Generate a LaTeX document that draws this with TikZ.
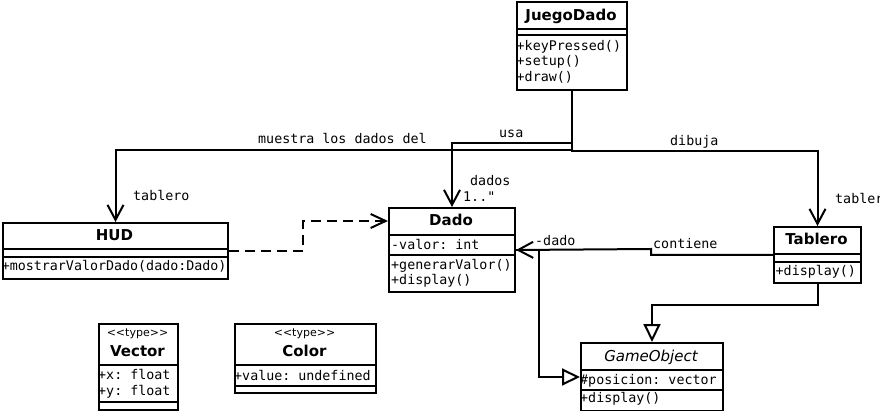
\documentclass[tikz,border=0pt]{standalone}
\usepackage{fontspec}
\setmainfont{DejaVu Sans}
\setmonofont{DejaVu Sans Mono}
\newfontfamily\stereofont{DejaVu Sans}
\usetikzlibrary{arrows.meta}
\begin{document}
\begin{tikzpicture}[x=1pt,y=-1pt,
  box/.style={draw, line width=2pt, inner sep=0pt, anchor=north west, fill=white},
  sep/.style={line width=2pt},
  mono/.style={font=\fontsize{13.33}{16}\selectfont\ttfamily, inner sep=0pt, anchor=base west},
  ttl/.style={font=\fontsize{15}{18}\selectfont\bfseries, inner sep=0pt, anchor=base},
  ittl/.style={font=\fontsize{15}{18}\selectfont\itshape, inner sep=0pt, anchor=base},
  stereo/.style={font=\fontsize{11}{13}\selectfont\stereofont, inner sep=0pt, anchor=base},
  conn/.style={line width=2pt, line join=miter},
  assoc/.style={conn, -{Straight Barb[length=15pt,width=16pt,line width=2pt]}},
  dep/.style={conn, dash pattern=on 10pt off 6pt, -{Straight Barb[length=15pt,width=14pt,line width=2pt]}},
  inh/.style={conn, -{Triangle[open, fill=white, length=18pt, width=17pt, line width=2pt]}},
]
\useasboundingbox (0,0) rectangle (880,411);
\clip (0,0) rectangle (880,411);

% class boxes
\node[box, minimum width=110pt, minimum height=88pt] (jd) at (516,1) {};
\node[box, minimum width=225pt, minimum height=56pt] (hud) at (2,222) {};
\node[box, minimum width=126pt, minimum height=84pt] (dado) at (388,207) {};
\node[box, minimum width=87pt, minimum height=56pt] (tablero) at (773,226) {};
\node[box, minimum width=142pt, minimum height=68pt] (go) at (580,342) {};
\node[box, minimum width=79pt, minimum height=86pt] (vector) at (98,323) {};
\node[box, minimum width=141pt, minimum height=69pt] (color) at (234,323) {};

% compartments
\draw[sep] (516,29) -- (626,29);
\draw[sep] (516,35) -- (626,35);
\draw[sep] (2,249.5) -- (227,249.5);
\draw[sep] (2,257.5) -- (227,257.5);
\draw[sep] (388,235) -- (514,235);
\draw[sep] (388,255) -- (514,255);
\draw[sep] (773,254.5) -- (860,254.5);
\draw[sep] (773,262) -- (860,262);
\draw[sep] (580,370) -- (722,370);
\draw[sep] (580,390) -- (722,390);
\draw[sep] (98,365) -- (177,365);
\draw[sep] (98,402) -- (177,402);
\draw[sep] (234,365) -- (375,365);
\draw[sep] (234,386) -- (375,386);

% texts
\node[ttl] (tjd) at (571,20.5) {JuegoDado};
\node[mono] (jd1) at (516.5,50.3) {+keyPressed()};
\node[mono] (jd2) at (516.5,66) {+setup()};
\node[mono] (jd3) at (516.5,81.7) {+draw()};

\node[ttl] (thud) at (114.5,240.7) {HUD};
\node[mono] (hud1) at (1.6,271) {+mostrarValorDado(dado:Dado)};

\node[ttl] (tdado) at (451,226) {Dado};
\node[mono] (dado1) at (391,249.5) {-valor: int};
\node[mono] (dado2) at (391,270) {+generarValor()};
\node[mono] (dado3) at (391,285) {+display()};

\node[ttl] (ttab) at (816.5,245) {Tablero};
\node[mono] (tab1) at (775.5,276) {+display()};

\node[ittl] (tgo) at (651,361) {GameObject};
\node[mono] (go1) at (580,384) {\#posicion: vector};
\node[mono] (go2) at (580,402.3) {+display()};

\node[stereo] (svec) at (137.5,336.7) {<<type>>};
\node[ttl] (tvec) at (137.5,356.7) {Vector};
\node[mono] (vec1) at (98,379) {+x: float};
\node[mono] (vec2) at (98,395) {+y: float};

\node[stereo] (scol) at (304.5,336.7) {<<type>>};
\node[ttl] (tcol) at (304.5,356.7) {Color};
\node[mono] (col1) at (234,380) {+value: undefined};

% connectors
\draw[assoc] (jd.south) -- ++(0,60.5) -| (tablero.north);
\draw[assoc] (jd.south) -- ++(0,58.7) -| (hud.north);
\draw[assoc] (jd.south) -- ++(0,52) -| (dado.north);

\coordinate (c1) at (651,249);
\draw[assoc] (tablero.west) -| (c1) -- (dado.east);
\coordinate (d1) at (303,221);
\draw[dep] (hud.east) -| (d1) -- (dado.west |- d1);
\coordinate (g1) at (539,377);
\draw[inh] (dado.east) -| (g1) -- (go.west |- g1);
\draw[inh] (tablero.south) -- ++(0,21.5) -| (go.north);

% connector labels
\node[mono] (lmuestra) at (258,144) {muestra los dados del};
\node[mono] (lusa) at (499,137.5) {usa};
\node[mono] (ldibuja) at (670,146) {dibuja};
\node[mono] (ltab1) at (133,200.7) {tablero};
\node[mono] (ldados) at (470,186) {dados};
\node[mono] (lmult) at (463,201.7) {1.."};
\node[mono] (ldado) at (535,246) {-dado};
\node[mono] (lcont) at (653,249) {contiene};
\node[mono] (ltab2) at (835,204) {tablero};
\end{tikzpicture}
\end{document}
